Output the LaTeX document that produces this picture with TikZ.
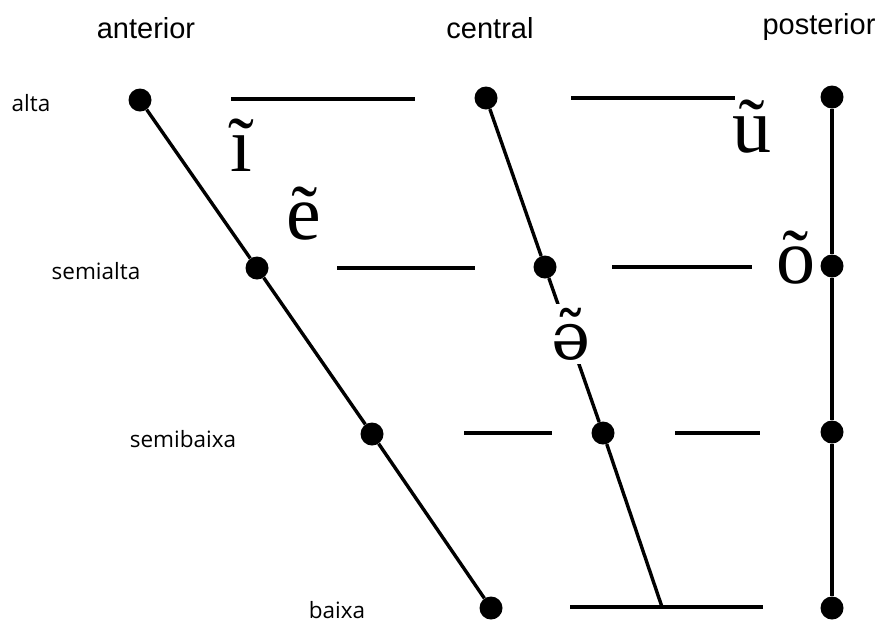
\documentclass[tikz,border=0pt]{standalone}
\usepackage{fontspec}
\setmainfont{Liberation Serif}
\newfontfamily\hdfont{Liberation Sans}
\newfontfamily\lbfont{Open Sans}
\newfontfamily\ipafont{DejaVu Serif}
\begin{document}
\begin{tikzpicture}[x=1pt,y=-1pt,
  dot/.style={circle,fill=black,inner sep=0pt,minimum size=23pt},
  ln/.style={line width=3.4pt},
  hd/.style={font=\hdfont\fontsize{29}{31}\selectfont,inner sep=0pt},
  lb/.style={font=\lbfont\fontsize{22.5}{24}\selectfont,inner sep=0pt},
  vw/.style={font=\fontsize{78}{80}\selectfont,inner sep=0pt,anchor=base}]
\useasboundingbox (0,0) rectangle (880,625);
% headers
\node[hd] (hA) at (146,28) {anterior};
\node[hd] (hC) at (490,28) {central};
\node[hd] (hP) at (819,27) {posterior};
% row labels
\node[lb] (lA) at (31,103) {alta};
\node[lb] (lSA) at (96,271) {semialta};
\node[lb] (lSB) at (183,439) {semibaixa};
\node[lb] (lB) at (337,610) {baixa};
% dots
\node[dot] (a1) at (140,100) {};
\node[dot] (a2) at (257,268) {};
\node[dot] (a3) at (372,434) {};
\node[dot] (a4) at (491,608) {};
\node[dot] (c1) at (486,98) {};
\node[dot] (c2) at (545,267) {};
\node[dot] (c3) at (603,433) {};
\coordinate (c4) at (662,607);
\node[dot] (p1) at (832,97) {};
\node[dot] (p2) at (832,266) {};
\node[dot] (p3) at (832,432) {};
\node[dot] (p4) at (832,608) {};
% slanted / vertical lines
\draw[ln] (a1) -- (a2) -- (a3) -- (a4);
\draw[ln] (c1) -- (c2) -- (c3) -- (c4);
\draw[ln] (p1) -- (p2) -- (p3) -- (p4);
% horizontal lines
\coordinate (h1a) at (231,99); \coordinate (h1b) at (415,99);
\coordinate (h2a) at (571,98); \coordinate (h2b) at (735,98);
\coordinate (h3a) at (337,268); \coordinate (h3b) at (475,268);
\coordinate (h4a) at (612,267); \coordinate (h4b) at (752,267);
\coordinate (h5a) at (464,433); \coordinate (h5b) at (552,433);
\coordinate (h6a) at (675,433); \coordinate (h6b) at (760,433);
\coordinate (h7a) at (570,607); \coordinate (h7b) at (763,607);
\draw[ln] (h1a) -- (h1b);
\draw[ln] (h2a) -- (h2b);
\draw[ln] (h3a) -- (h3b);
\draw[ln] (h4a) -- (h4b);
\draw[ln] (h5a) -- (h5b);
\draw[ln] (h6a) -- (h6b);
\draw[ln] (h7a) -- (h7b);
% vowels
\node[vw] (vi) at (241,171) {ĩ};
\node[vw] (ve) at (304,239) {ẽ};
\node[vw] (vu) at (752,152) {ũ};
\node[vw] (vo) at (796,283) {õ};
\node[vw,fill=white,inner sep=4pt] (vs) at (571,359) {\~{\ipafont\fontsize{66}{70}\selectfont ə}};
\end{tikzpicture}
\end{document}
